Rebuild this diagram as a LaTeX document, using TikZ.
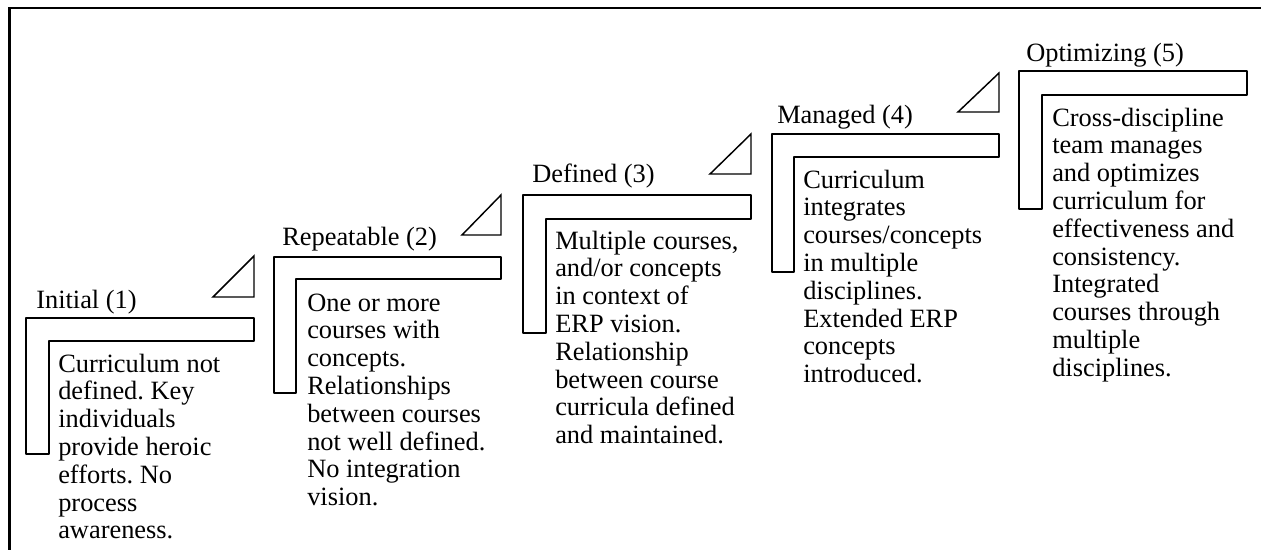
\documentclass[tikz,border=0pt]{standalone}
\usepackage{fontspec}
\setmainfont{Liberation Serif}
\frenchspacing
\newcommand{\lines}[1]{\begin{tabular}[t]{@{}l@{}}#1\end{tabular}}
\begin{document}
\begin{tikzpicture}[x=0.75pt,y=-0.75pt,
  lshape/.style={draw=black,line width=1.1pt,line join=round},
  tri/.style={draw=black,line width=1.1pt,line join=miter},
  frame/.style={draw=black,line width=1.9pt},
  title/.style={anchor=base west,inner sep=0pt,font=\fontsize{19.8pt}{20.85pt}\selectfont},
  body/.style={anchor=base west,inner sep=0pt,font=\fontsize{19.8pt}{20.85pt}\selectfont}]
\useasboundingbox (0,0) rectangle (1261,550);
\draw[frame] (1261,8) -- (9.5,8) -- (9.5,550);

% Stage 1
\draw[lshape] (26,318) -- (254,318) -- (254,341) -- (49,341) -- (49,454) -- (26,454) -- cycle;
\draw[tri] (254,256) -- (254,297) -- (213,297) -- cycle;
\node[title] (t1) at (36,308) {Initial (1)};
\node[body] (b1) at (58,372) {\lines{Curriculum not\\defined. Key\\individuals\\provide heroic\\efforts. No\\process\\awareness.}};

% Stage 2
\draw[lshape] (274,257) -- (501,257) -- (501,279) -- (296,279) -- (296,393) -- (274,393) -- cycle;
\draw[tri] (501,195) -- (501,235) -- (462,235) -- cycle;
\node[title] (t2) at (282,245) {Repeatable (2)};
\node[body] (b2) at (307,311) {\lines{One or more\\courses with\\concepts.\\Relationships\\between courses\\not well defined.\\No integration\\vision.}};

% Stage 3
\draw[lshape] (523,195) -- (751,195) -- (751,219) -- (546,219) -- (546,333) -- (523,333) -- cycle;
\draw[tri] (751,134) -- (751,174) -- (710,174) -- cycle;
\node[title] (t3) at (532,182) {Defined (3)};
\node[body] (b3) at (555,249) {\lines{Multiple courses,\\and/or concepts\\in context of\\ERP vision.\\Relationship\\between course\\curricula defined\\and maintained.}};

% Stage 4
\draw[lshape] (772,134) -- (999,134) -- (999,157) -- (794,157) -- (794,272) -- (772,272) -- cycle;
\draw[tri] (999,73) -- (999,112) -- (958,112) -- cycle;
\node[title] (t4) at (777,123) {Managed (4)};
\node[body] (b4) at (803,188) {\lines{Curriculum\\integrates\\courses/concepts\\in multiple\\disciplines.\\Extended ERP\\concepts\\introduced.}};

% Stage 5
\draw[lshape] (1019,71) -- (1247,71) -- (1247,95) -- (1042,95) -- (1042,209) -- (1019,209) -- cycle;
\node[title] (t5) at (1026,61) {Optimizing (5)};
\node[body] (b5) at (1052,126) {\lines{Cross-discipline\\team manages\\and optimizes\\curriculum for\\effectiveness and\\consistency.\\Integrated\\courses through\\multiple\\disciplines.}};
\end{tikzpicture}
\end{document}
